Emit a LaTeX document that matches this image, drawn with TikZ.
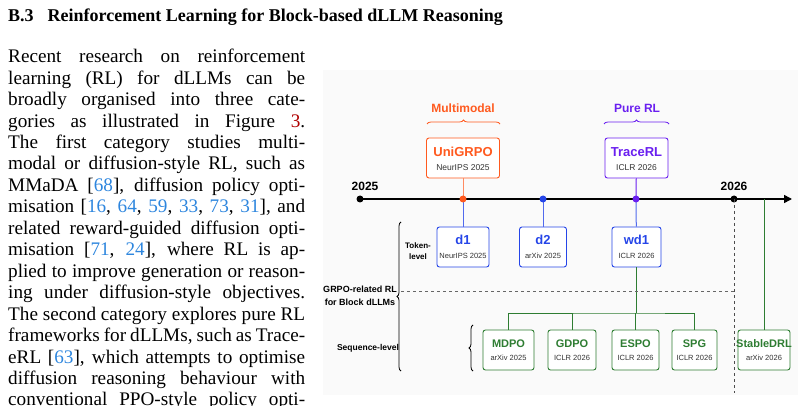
\documentclass[tikz,border=0pt]{standalone}
\usepackage{fontspec}
\setmainfont{Liberation Serif}
\setsansfont{Liberation Sans}
\usetikzlibrary{decorations.pathreplacing,arrows.meta}
\definecolor{cor}{HTML}{FF5A1F}
\definecolor{cpu}{HTML}{6A1FF0}
\definecolor{cbl}{HTML}{2545E8}
\definecolor{cgr}{HTML}{2E7D32}
\definecolor{cite}{HTML}{2E86DE}
\definecolor{figref}{HTML}{B00000}
\newcommand{\cit}[1]{\textcolor{cite}{#1}}
\begin{document}
\begin{tikzpicture}[x=1pt,y=-1pt,
  box/.style={draw=#1,line width=0.9pt,rounded corners=2.5pt,fill=white,inner sep=0pt,align=center,font=\sffamily},
  tl/.style={font=\sffamily\bfseries\fontsize{13}{14}\selectfont},
  sub/.style={font=\sffamily\fontsize{8.5}{9}\selectfont,text=black!80},
  br/.style={decorate,decoration={brace,amplitude=4pt},line width=0.8pt}]
\useasboundingbox (0,0) rectangle (798,406);
\begin{scope}
\clip (0,0) rectangle (798,406);
\fill[black!2] (323,70) rectangle (798,395);
\node[anchor=base west,inner sep=0pt,font=\bfseries\fontsize{18}{20}\selectfont] (head) at (8,22) {B.3\hspace{14pt}Reinforcement Learning for Block-based dLLM Reasoning};
\node[anchor=north west,inner sep=0pt,text width=297pt,align=justify,font=\fontsize{19.2}{21.45}\selectfont] (body) at (8,49) {%
Recent research on reinforcement\linebreak
learning (RL) for dLLMs can be\linebreak
broadly organised into three cate-\linebreak
gories as illustrated in Figure \textcolor{figref}{3}.\linebreak
The first category studies multi-\linebreak
modal or diffusion-style RL, such as\linebreak
MMaDA [\cit{68}], diffusion policy opti-\linebreak
misation [\cit{16}, \cit{64}, \cit{59}, \cit{33}, \cit{73}, \cit{31}], and\linebreak
related reward-guided diffusion opti-\linebreak
misation [\cit{71}, \cit{24}], where RL is ap-\linebreak
plied to improve generation or reason-\linebreak
ing under diffusion-style objectives.\linebreak
The second category explores pure RL\linebreak
frameworks for dLLMs, such as Trace-\linebreak
eRL [\cit{63}], which attempts to optimise\linebreak
diffusion reasoning behaviour with\linebreak
conventional PPO-style policy opti-\linebreak
misation};
\end{scope}
% timeline
\coordinate (t0) at (360,199);
\coordinate (tend) at (792,199);
\draw[line width=1.6pt,-{Triangle[length=8pt,width=8pt]}] (t0) -- (tend);
\fill (t0) circle (3.5pt);
\coordinate (t26) at (734,199);
\fill (t26) circle (3.5pt);
\node[tl,font=\sffamily\bfseries\fontsize{12}{12}\selectfont] (y25) at (365,186) {2025};
\node[tl,font=\sffamily\bfseries\fontsize{12}{12}\selectfont] (y26) at (734,186) {2026};
\coordinate (po) at (463,199);
\coordinate (pb) at (543,199);
\coordinate (pp) at (636,199);
% top boxes
\node[box=cor,minimum width=73pt,minimum height=40pt] (uni) at (463,158) {};
\node[tl,text=cor] (unit) at (463,152) {UniGRPO};
\node[sub] (unis) at (463,168) {NeurIPS 2025};
\node[box=cpu,minimum width=63pt,minimum height=40pt] (tr) at (636.5,158) {};
\node[tl,text=cpu] (trt) at (636.5,152) {TraceRL};
\node[sub] (trs) at (636.5,168) {ICLR 2026};
\draw[cor!70,line width=1pt] (uni) -- (po);
\draw[cpu,line width=1pt] (tr) -- (pp);
\draw[br,cor] (427,124) -- (500,124);
\draw[br,cpu] (604,124) -- (669,124);
\node[tl,text=cor,font=\sffamily\bfseries\fontsize{12}{12}\selectfont] (mm) at (463,108) {Multimodal};
\node[tl,text=cpu,font=\sffamily\bfseries\fontsize{12}{12}\selectfont] (prl) at (637,108) {Pure RL};
% token level
\node[box=cbl,minimum width=52pt,minimum height=40pt] (d1) at (463,247) {};
\node[tl,text=cbl] (d1t) at (463,240) {d1};
\node[sub,font=\sffamily\fontsize{7.5}{8}\selectfont] (d1s) at (463,256) {NeurIPS 2025};
\node[box=cbl,minimum width=47pt,minimum height=40pt] (d2) at (543,247) {};
\node[tl,text=cbl] (d2t) at (543,240) {d2};
\node[sub,font=\sffamily\fontsize{7.5}{8}\selectfont] (d2s) at (543,256) {arXiv 2025};
\node[box=cbl,minimum width=49pt,minimum height=40pt] (wd) at (636.5,247) {};
\node[tl,text=cbl] (wdt) at (636.5,240) {wd1};
\node[sub,font=\sffamily\fontsize{7.5}{8}\selectfont] (wds) at (636.5,256) {ICLR 2026};
\draw[cbl!80,line width=1pt] (d1) -- (po);
\draw[cbl!80,line width=1pt] (d2) -- (pb);
\draw[cbl!80,line width=1pt] (wd) -- (pp);
\fill[cor] (po) circle (3.5pt);
\fill[cbl] (pb) circle (3.5pt);
\fill[cpu] (pp) circle (3.5pt);
% sequence level
\foreach \n/\x/\w/\t/\s in {md/508.5/51/MDPO/arXiv 2025, gd/572/48/GDPO/ICLR 2026, es/635.5/47/ESPO/ICLR 2026, sp/694.5/45/SPG/ICLR 2026, st/764/52/StableDRL/arXiv 2026}{
  \node[box=cgr,minimum width=\w pt,minimum height=40pt] (\n) at (\x,350) {};
  \node[tl,text=cgr,font=\sffamily\bfseries\fontsize{11}{12}\selectfont] (\n t) at (\x,344) {\t};
  \node[sub,font=\sffamily\fontsize{7.5}{8}\selectfont] (\n s) at (\x,358) {\s};
}
\coordinate (j) at (636.5,313);
\draw[cgr,line width=1pt] (wd) -- (j);
\draw[cgr,line width=1pt] (md.north) |- (j) -| (sp.north);
\draw[cgr,line width=1pt] (gd.north) -- (gd.north |- j);
\draw[cgr,line width=1pt] (es.north) -- (es.north |- j);
\draw[cgr,line width=1pt] (st.north) -- (st.north |- t0);
% dashed lines
\coordinate (dend) at (734,393);
\draw[dashed,black!70,line width=0.8pt] (t26) -- (dend);
\coordinate (hl) at (401,291);
\coordinate (hr) at (734,291);
\draw[dashed,black!60,line width=0.8pt] (hl) -- (hr);
% braces left
\draw[br,decoration={brace,amplitude=4pt,mirror}] (401,222) -- (401,371);
\draw[br,decoration={brace,amplitude=4pt,mirror}] (473,325) -- (473,371);
\node[font=\sffamily\bfseries\fontsize{8}{11}\selectfont,align=center] (tok) at (418,251) {Token-\\level};
\node[font=\sffamily\bfseries\fontsize{9}{13}\selectfont,align=center] (grpo) at (360,296) {GRPO-related RL\\for Block dLLMs};
\node[font=\sffamily\bfseries\fontsize{8.5}{10}\selectfont] (seq) at (368,348) {Sequence-level};
\end{tikzpicture}
\end{document}
